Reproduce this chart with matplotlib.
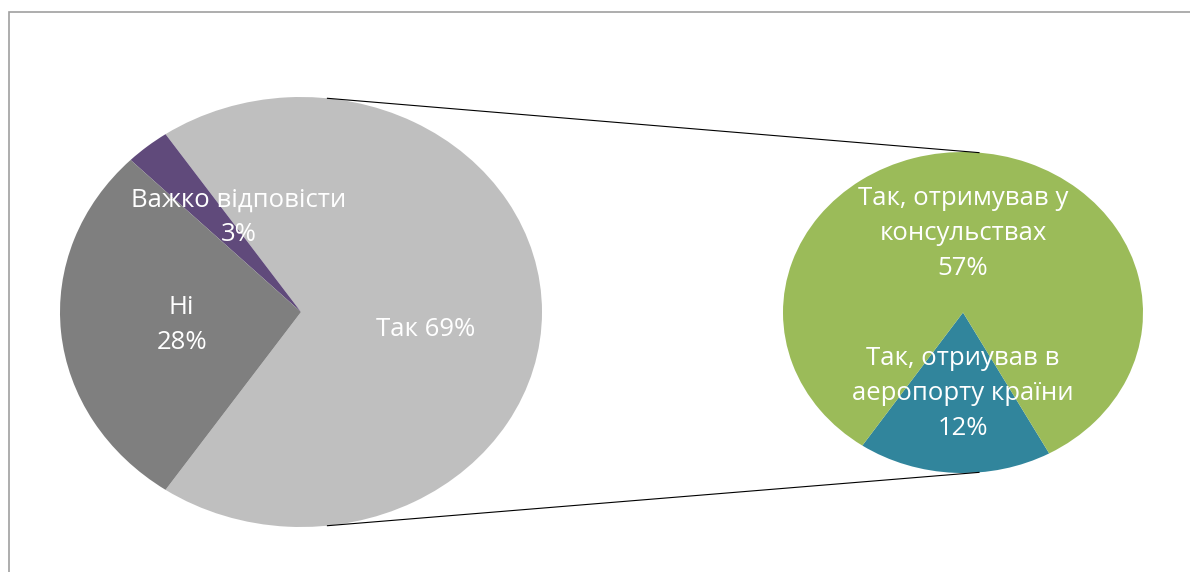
import numpy as np
import matplotlib
matplotlib.use("Agg")
import matplotlib.pyplot as plt
from matplotlib.lines import Line2D
from matplotlib.patches import Rectangle

plt.rcParams["font.family"] = ["Open Sans", "DejaVu Sans"]

# main pie
main_labels = ["Так 69%", "Важко відповісти\n3%", "Ні\n28%"]
main_values = [69, 3, 28]
main_colors = ["#BFBFBF", "#604A7B", "#7F7F7F"]

# secondary pie (breakdown of "Так")
sub_labels = ["Так, отриував в\nаеропорту країни\n12%", "Так, отримував у\nконсульствах\n57%"]
sub_values = [12, 57]
sub_colors = ["#31859C", "#9BBB59"]

W, H = 1190, 572
fig = plt.figure(figsize=(W / 100, H / 100), dpi=100)

# frame of the chart area
fig.add_artist(Rectangle((9 / W, -0.1), 1.2, (H - 12) / H + 0.1, transform=fig.transFigure,
                         fill=False, edgecolor="#A0A0A0", linewidth=1.2))

# pixel boxes of the two (elliptic) pies: left, top, width, height
left_box = (60, 97, 482, 430)
right_box = (783, 152, 360, 321)


def box_axes(box):
    x, y, w, h = box
    ax = fig.add_axes([x / W, (H - y - h) / H, w / W, h / H])
    return ax


ax1 = box_axes(left_box)
main_start = -360 * main_values[0] / sum(main_values) / 2
ax1.pie(main_values, colors=main_colors, startangle=main_start, counterclock=True,
        radius=1, wedgeprops=dict(linewidth=0))
ax1.set_aspect("auto")
ax1.set_xlim(-1, 1)
ax1.set_ylim(-1, 1)
ax1.axis("off")

main_pos = [(0.517, -0.08), (-0.26, 0.44), (-0.495, -0.06)]
for (tx, ty), lab in zip(main_pos, main_labels):
    ax1.text(tx, ty, lab, ha="center", va="center", color="white", fontsize=18.5,
             linespacing=1.53)

ax2 = box_axes(right_box)
ax2.pie(sub_values, colors=sub_colors, startangle=-124, counterclock=True,
        radius=1, wedgeprops=dict(linewidth=0))
ax2.set_aspect("auto")
ax2.set_xlim(-1, 1)
ax2.set_ylim(-1, 1)
ax2.axis("off")

sub_pos = [(0, -0.505), (0, 0.49)]
for (tx, ty), lab in zip(sub_pos, sub_labels):
    ax2.text(tx, ty, lab, ha="center", va="center", color="white", fontsize=18.5,
             linespacing=1.53)


# connector lines between the pies
def ellipse_point(box, ang):
    x, y, w, h = box
    cx, cy = x + w / 2, y + h / 2
    px = cx + w / 2 * np.cos(np.radians(ang))
    py = cy - h / 2 * np.sin(np.radians(ang))
    return px / W, (H - py) / H


for a1, a2 in [(83.7, 84.9), (-83.7, -84.9)]:
    p1 = ellipse_point(left_box, a1)
    p2 = ellipse_point(right_box, a2)
    fig.add_artist(Line2D([p1[0], p2[0]], [p1[1], p2[1]], transform=fig.transFigure,
                          color="black", linewidth=0.8))

fig.savefig("out.png", dpi=100)
